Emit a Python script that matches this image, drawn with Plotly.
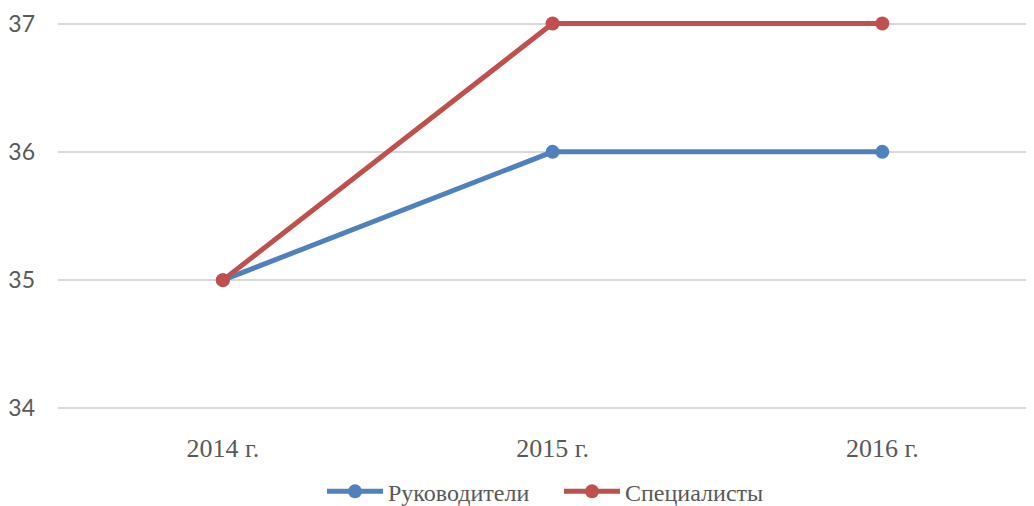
import plotly.graph_objects as go

years = ["2014 г.", "2015 г.", "2016 г."]
managers = [35, 36, 36]
specialists = [35, 37, 37]
y_ticks = [34, 35, 36, 37]

fig = go.Figure()
fig.add_trace(go.Scatter(
    x=years, y=managers, name="Руководители", mode="lines+markers", cliponaxis=False,
    line=dict(color="#4F81BD", width=5), marker=dict(size=14, color="#4F81BD")))
fig.add_trace(go.Scatter(
    x=years, y=specialists, name="Специалисты", mode="lines+markers", cliponaxis=False,
    line=dict(color="#C0504D", width=5), marker=dict(size=14, color="#C0504D")))

fig.update_layout(
    width=1026, height=498,
    margin=dict(l=50, r=0, t=13.44, b=95.44, autoexpand=False),
    paper_bgcolor="white", plot_bgcolor="white",
    showlegend=True,
    legend=dict(orientation="h", x=0.2705, xanchor="left", y=-0.207, yanchor="middle",
                font=dict(family="Liberation Serif", size=24, color="#595959"),
                itemwidth=56, entrywidth=166, entrywidthmode="pixels"),
    xaxis=dict(type="category", range=[-0.5, 2.46], showgrid=False, zeroline=False,
               showline=False, ticks="", ticklabelstandoff=19, automargin=False,
               tickfont=dict(family="Liberation Serif", size=26, color="#595959")),
    yaxis=dict(range=[33.98, 37.02], tickvals=y_ticks, showgrid=True, gridcolor="#D9D9D9",
               gridwidth=2, zeroline=False, showline=False, ticks="",
               ticklabelstandoff=22, automargin=False,
               tickfont=dict(family="Lato", size=23, color="#595959")),
)
fig.write_html("out.html")
